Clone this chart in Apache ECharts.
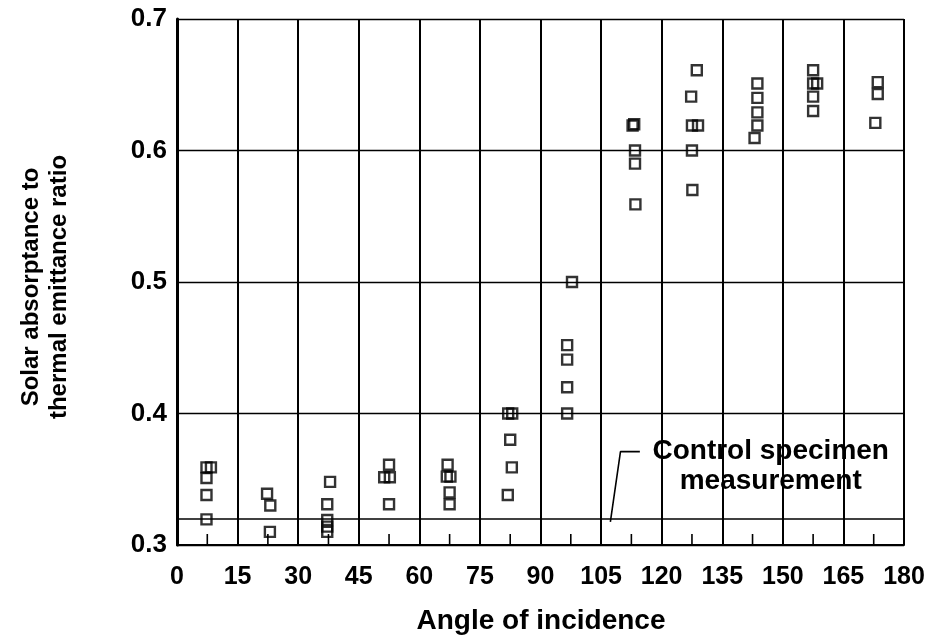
<!DOCTYPE html>
<html>
<head>
<meta charset="utf-8">
<script src="https://cdn.jsdelivr.net/npm/echarts@6/dist/echarts.min.js"></script>
<style>
html,body{margin:0;padding:0;background:#fff;}
#chart{width:938px;height:644px;}
</style>
</head>
<body>
<div id="chart"></div>
<script>
// Angle of incidence (deg) and solar absorptance / thermal emittance ratio
const angles = [
  7.3, 8.4, 7.3, 7.3, 7.3,
  22.3, 23.1, 23.0,
  37.9, 37.2, 37.2, 37.2, 37.2,
  52.5, 51.3, 52.7, 52.5,
  67.0, 66.8, 67.7, 67.5, 67.5,
  82.0, 83.0, 82.5, 82.9, 81.9,
  97.8, 96.6, 96.6, 96.6, 96.6,
  112.8, 113.2, 113.4, 113.4, 113.5,
  128.7, 127.3, 127.5, 129.0, 127.5, 127.6,
  143.7, 143.7, 143.7, 143.7, 143.0,
  157.5, 157.5, 158.5, 157.5, 157.5,
  173.5, 173.5, 172.9
];
const ratios = [
  0.359, 0.359, 0.351, 0.338, 0.3195,
  0.339, 0.330, 0.310,
  0.348, 0.331, 0.319, 0.314, 0.310,
  0.361, 0.3515, 0.3515, 0.331,
  0.361, 0.352, 0.352, 0.340, 0.331,
  0.400, 0.400, 0.380, 0.359, 0.338,
  0.500, 0.452, 0.441, 0.420, 0.400,
  0.619, 0.620, 0.600, 0.590, 0.559,
  0.661, 0.641, 0.619, 0.619, 0.600, 0.570,
  0.651, 0.640, 0.629, 0.619, 0.6095,
  0.661, 0.651, 0.651, 0.641, 0.630,
  0.652, 0.643, 0.621
];
const minorTickAngles = [7.5, 22.5, 37.5, 52.5, 67.5, 82.5, 97.5, 112.5, 127.5, 142.5, 157.5, 172.5];
const controlValue = 0.3175;
const leaderX = [107.3, 109.8, 114.6];
const leaderY = [0.3175, 0.371, 0.371];
const noteLines = ['Control specimen', 'measurement'];
const noteAnchor = [147, 0.371];
const xTitle = 'Angle of incidence';
const yTitleLines = ['Solar absorptance to', 'thermal emittance ratio'];

const FONT = "'Liberation Sans', Arial, Helvetica, sans-serif";
const Y_MIN = 0.3;
const points = angles.map((a, i) => [a, ratios[i]]);
const leader = leaderX.map((x, i) => [x, leaderY[i]]);

const chart = echarts.init(document.getElementById('chart'), null, {renderer: 'canvas'});
chart.setOption({
  animation: false,
  backgroundColor: '#fff',
  grid: {left: 177, right: 34, top: 19, bottom: 99, containLabel: false},
  xAxis: {
    type: 'value', min: 0, max: 180, interval: 15,
    axisLine: {show: true, lineStyle: {color: '#000', width: 2}},
    axisTick: {show: false},
    splitLine: {show: true, lineStyle: {color: '#000', width: 2}},
    axisLabel: {color: '#000', fontSize: 25, fontWeight: 'bold', fontFamily: FONT, margin: 20}
  },
  yAxis: {
    type: 'value', min: Y_MIN, max: 0.7, interval: 0.1,
    axisLine: {show: true, lineStyle: {color: '#000', width: 3}},
    axisTick: {show: false},
    splitLine: {show: true, lineStyle: {color: '#000', width: 1.3}},
    axisLabel: {color: '#000', fontSize: 26, fontWeight: 'bold', fontFamily: FONT, margin: 10,
      formatter: v => v.toFixed(1)}
  },
  series: [
    {
      type: 'scatter',
      data: points,
      symbol: 'rect',
      symbolSize: 10,
      itemStyle: {color: 'rgba(0,0,0,0)', borderColor: '#000', borderWidth: 2.4},
      markLine: {
        silent: true, symbol: ['none', 'none'], label: {show: false},
        lineStyle: {color: '#000', width: 1.5, type: 'solid'},
        data: [{yAxis: controlValue}]
      },
      z: 5
    },
    {
      type: 'line',
      data: leader,
      symbol: 'none',
      lineStyle: {color: '#000', width: 1.6},
      z: 4
    },
    {
      type: 'custom',
      data: minorTickAngles.map(a => [a, Y_MIN]),
      silent: true,
      z: 4,
      renderItem: (params, api) => {
        const pt = api.coord([api.value(0), api.value(1)]);
        return {
          type: 'line',
          shape: {x1: pt[0], y1: pt[1], x2: pt[0], y2: pt[1] - 11},
          style: {stroke: '#000', lineWidth: 1.6}
        };
      }
    }
  ]
});

const p = chart.convertToPixel({gridIndex: 0}, noteAnchor);
chart.setOption({
  graphic: [
    {
      type: 'text', x: p[0], y: p[1],
      style: {text: noteLines[0], fill: '#000', font: 'bold 28px ' + FONT, align: 'center', verticalAlign: 'middle'}
    },
    {
      type: 'text', x: p[0], y: p[1] + 30,
      style: {text: noteLines[1], fill: '#000', font: 'bold 28px ' + FONT, align: 'center', verticalAlign: 'middle'}
    },
    {
      type: 'text', x: 541, y: 621,
      style: {text: xTitle, fill: '#000', font: 'bold 28px ' + FONT, align: 'center', verticalAlign: 'middle'}
    },
    {
      type: 'text', x: 31, y: 287, rotation: Math.PI / 2,
      style: {text: yTitleLines[0], fill: '#000', font: 'bold 24px ' + FONT, align: 'center', verticalAlign: 'middle'}
    },
    {
      type: 'text', x: 59, y: 287, rotation: Math.PI / 2,
      style: {text: yTitleLines[1], fill: '#000', font: 'bold 24px ' + FONT, align: 'center', verticalAlign: 'middle'}
    }
  ]
});
</script>
</body>
</html>
